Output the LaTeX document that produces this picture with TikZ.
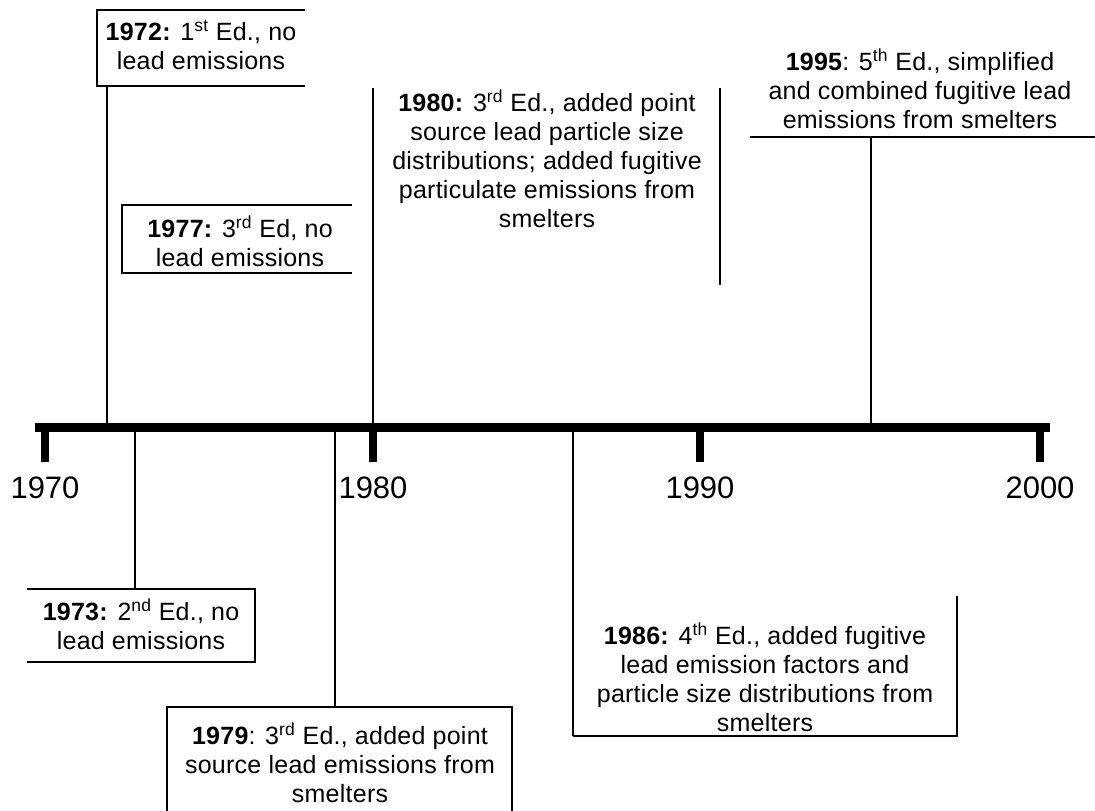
\documentclass[tikz,border=0pt]{standalone}
\usepackage{fontspec}
\setmainfont{Liberation Sans}
\newfontfamily\boxfont{Liberation Sans}[LetterSpace=1]
\begin{document}
\begin{tikzpicture}[x=1pt,y=-1pt,
  txt/.style={align=center, font=\boxfont\fontsize{25}{29}\selectfont, inner sep=0pt},
  yr/.style={font=\fontsize{31}{31}\selectfont, inner sep=0pt},
  edge/.style={line width=2pt},
  stem/.style={line width=1.5pt},
  axisline/.style={line width=9pt},
  tick/.style={line width=8pt}]
\useasboundingbox (0,0) rectangle (1095,811);

% axis and ticks
\draw[axisline] (35,427) -- (1050,427);
\foreach \x/\y in {45/1970,373/1980,700/1990,1040/2000}{
  \draw[tick] (\x,427) -- (\x,462);
  \node[yr] (y\y) at (\x,488) {\y};
}

% axis anchor points for connectors
\coordinate (a72) at (107,423);
\coordinate (a73) at (135,431);
\coordinate (a79) at (335,431);
\coordinate (a80) at (373,423);
\coordinate (a86) at (573,431);
\coordinate (a95) at (871,423);

% 1972
\node[txt] (t72) at (201,45) {\textbf{1972:} 1\textsuperscript{st} Ed., no\\lead emissions};
\coordinate (b72nw) at (97,10); \coordinate (b72ne) at (305,10);
\coordinate (b72sw) at (97,86); \coordinate (b72se) at (305,86);
\draw[edge] (b72ne) -- (b72nw) -- (b72sw) -- (b72se);
\draw[stem] (b72sw -| a72) -- (a72);

% 1977
\node[txt] (t77) at (240,241) {\textbf{1977:} 3\textsuperscript{rd} Ed, no\\lead emissions};
\coordinate (b77nw) at (122,205); \coordinate (b77ne) at (352,205);
\coordinate (b77sw) at (122,273); \coordinate (b77se) at (352,273);
\draw[edge] (b77ne) -- (b77nw) -- (b77sw) -- (b77se);

% 1980
\node[txt] (t80) at (547,159) {\textbf{1980:} 3\textsuperscript{rd} Ed., added point\\source lead particle size\\distributions; added fugitive\\particulate emissions from\\smelters};
\coordinate (b80nw) at (373,88); \coordinate (b80ne) at (720,88);
\coordinate (b80se) at (720,285);
\draw[stem] (b80nw) -- (a80);
\draw[stem] (b80ne) -- (b80se);

% 1995
\node[txt] (t95) at (920,89) {\textbf{1995}: 5\textsuperscript{th} Ed., simplified\\and combined fugitive lead\\emissions from smelters};
\coordinate (b95sw) at (750,137); \coordinate (b95se) at (1095,137);
\draw[edge] (b95sw) -- (b95se);
\draw[stem] (b95sw -| a95) -- (a95);

% 1973
\node[txt] (t73) at (141,624) {\textbf{1973:} 2\textsuperscript{nd} Ed., no\\lead emissions};
\coordinate (b73nw) at (27,589); \coordinate (b73ne) at (255,589);
\coordinate (b73sw) at (27,662); \coordinate (b73se) at (255,662);
\draw[edge] (b73nw) -- (b73ne) -- (b73se) -- (b73sw);
\draw[stem] (a73) -- (b73nw -| a73);

% 1979
\node[txt] (t79) at (340,763) {\textbf{1979}: 3\textsuperscript{rd} Ed., added point\\source lead emissions from\\smelters};
\coordinate (b79nw) at (167,707); \coordinate (b79ne) at (512,707);
\coordinate (b79sw) at (167,811); \coordinate (b79se) at (512,811);
\draw[edge] (b79sw) -- (b79nw) -- (b79ne) -- (b79se);
\draw[stem] (a79) -- (b79nw -| a79);

% 1986
\node[txt] (t86) at (765,677) {\textbf{1986:} 4\textsuperscript{th} Ed., added fugitive\\lead emission factors and\\particle size distributions from\\smelters};
\coordinate (b86sw) at (573,736); \coordinate (b86ne) at (957,596);
\coordinate (b86se) at (957,736);
\draw[stem] (a86) -- (b86sw);
\draw[edge] (b86sw) -- (b86se) -- (b86ne);
\end{tikzpicture}
\end{document}
